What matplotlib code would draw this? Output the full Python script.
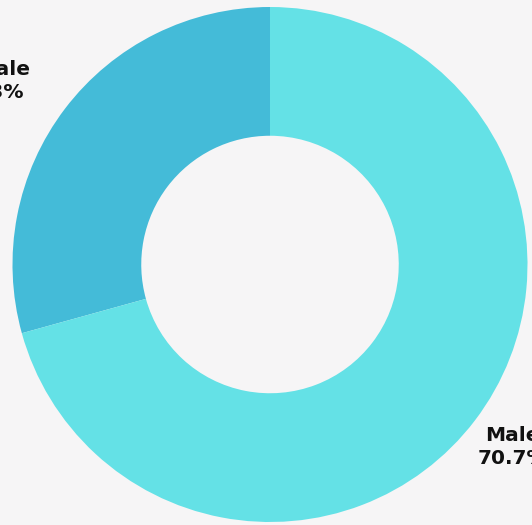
import matplotlib
matplotlib.use("Agg")
import matplotlib.pyplot as plt

categories = ["Female", "Male"]
shares = [29.3, 70.7]
colors = ["#44bbd8", "#64e1e6"]
label_pos = [(-1.089, 0.713), (0.941, -0.709)]

fig = plt.figure(figsize=(5.32, 5.25), dpi=100, facecolor="#f6f5f6")
ax = fig.add_axes([0, 0, 1, 1])
ax.set_facecolor("#f6f5f6")

ax.pie(shares, colors=colors, startangle=90, counterclock=True,
       radius=1.0, wedgeprops=dict(width=0.5, linewidth=0))

for name, val, (x, y) in zip(categories, shares, label_pos):
    ax.text(x, y, f"{name}\n{val:.1f}%", ha="center", va="center",
            multialignment="center", fontsize=14.5, fontweight="bold",
            family="DejaVu Sans", color="#111111",
            linespacing=1.3, clip_on=False)

ax.set_aspect("auto")
ax.set_xlim(-270 / 257.5, 262 / 257.5)
ax.set_ylim(-260.5 / 257.5, 264.5 / 257.5)
ax.axis("off")

fig.savefig("out.png", dpi=100, facecolor=fig.get_facecolor())
